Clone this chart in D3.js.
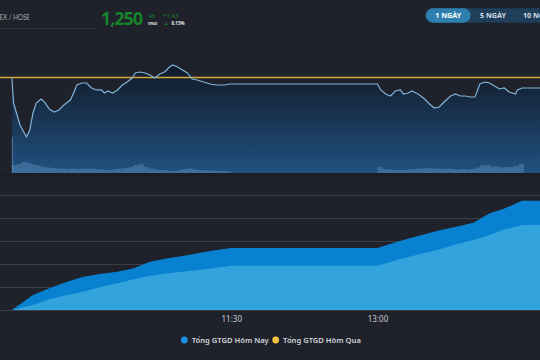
<!DOCTYPE html>
<html><head><meta charset="utf-8">
<script src="https://cdn.jsdelivr.net/npm/d3@7"></script>
<style>
html,body{margin:0;padding:0;background:#1f222a;}
svg{display:block;font-family:"Noto Sans","Open Sans",sans-serif;}
</style></head>
<body>
<svg id="c" width="540" height="360"></svg>
<script>
// ---------- data ----------
const refPrice = 1249.03;
const priceTimes = ["09:15","09:16","09:20","09:24","09:26","09:28","09:30","09:33","09:35","09:38","09:41","09:44","09:47","09:51","09:53","09:55","09:58","10:01","10:04","10:07","10:10","10:12","10:14","10:17","10:20","10:23","10:26","10:29","10:31","10:34","10:37","10:40","10:43","10:46","10:49","10:52","10:54","10:57","11:00","11:03","11:06","11:09","11:13","11:17","11:21","11:26","11:29","11:30","13:00","13:02","13:05","13:08","13:11","13:14","13:16","13:19","13:21","13:25","13:29","13:32","13:35","13:38","13:41","13:45","13:48","13:51","13:54","13:57","14:00","14:03","14:06","14:09","14:12","14:15","14:18","14:21","14:25","14:26","14:29","14:40"];
const priceValues = [1249.03,1245.37,1242.24,1240.53,1241.53,1243.95,1245.37,1245.94,1245.52,1244.52,1244.09,1244.38,1245.09,1245.80,1246.80,1247.94,1248.22,1248.22,1247.51,1247.23,1247.23,1246.80,1247.08,1246.80,1247.23,1247.94,1248.36,1248.93,1249.65,1249.79,1249.65,1249.36,1248.93,1249.50,1249.79,1250.50,1250.79,1250.50,1250.07,1249.65,1248.79,1248.65,1248.36,1248.08,1247.94,1247.94,1248.08,1248.08,1248.08,1247.23,1246.66,1246.37,1247.08,1247.23,1246.66,1246.80,1247.08,1246.66,1245.94,1245.23,1244.66,1244.80,1245.52,1246.37,1246.66,1246.37,1246.37,1246.23,1246.23,1248.08,1248.36,1248.22,1247.80,1247.37,1247.51,1246.94,1246.66,1247.23,1247.51,1247.51];

const atoTime = "09:15", atoVolume = 36;
const volMorningStart = "09:15";
const volMorning = [8,9,11,10,8.5,7.5,6,5.5,5,4.5,4.5,4,4.5,4,4.5,4,4.5,4,3.5,3,3.5,4,4.5,5,6,8,9,6,4.5,3.5,3,2.5,2,2,3,4,4.5,3.5,3,2.5,2.5,2.5,2,2,1.5];
const volAfternoonStart = "13:00";
const volAfternoon = [6,4,3.5,3,3,3,3.5,4,4.5,4.5,5,4.5,4.5,4,4.5,4,3.5,4,3.5,4,5.5,7.5,8,6.5,6.5,5.5,6,6,7,9];
const volBinMinutes = 3;

const valueTimes = ["09:15","09:28","09:38","09:49","09:59","10:09","10:20","10:30","10:40","10:50","11:00","11:10","11:20","11:30","13:00","13:12","13:22","13:37","13:47","13:59","14:09","14:17","14:29","14:40"];
const valueToday = [0,3260,4720,6150,7240,7830,8330,9100,10500,11200,11720,12400,12980,13480,13480,14850,15800,17240,17970,18980,21020,21890,23760,23760];
const valueToday2 = [0,1090,2330,3260,3980,4940,5800,6670,7460,7960,8310,8670,9140,9630,9630,10870,11780,13040,14150,15220,16300,17390,18480,18480];
const valueTicks = [0,5000,10000,15000,20000,25000];
const timeTicks = ["11:30","13:00"];
const legendLabels = ["Tổng GTGD Hôm Nay","Tổng GTGD Hôm Qua"];
const legendColors = ["#1a8fe3","#f6c342"];
const rangeButtons = ["1 NGÀY","5 NGÀY","10 NGÀY"];

// ---------- setup ----------
const svg = d3.select("#c");
const tp = d3.timeParse("%H:%M");
const x = d3.scaleTime().domain([tp("09:00"), tp("15:00")]).range([-12.5, 572.5]);
const yP = d3.scaleLinear().domain([1235.4, 1251.5]).range([173, 60]);
const yV = d3.scaleLinear().domain([0, 40]).range([173, 133]);
const yB = d3.scaleLinear().domain([0, 25000]).range([310, 195]);

const defs = svg.append("defs");
const g = defs.append("linearGradient").attr("id","pg").attr("gradientUnits","userSpaceOnUse")
  .attr("x1",0).attr("x2",0).attr("y1",65).attr("y2",173);
g.append("stop").attr("offset","0%").attr("stop-color","#111927");
g.append("stop").attr("offset","100%").attr("stop-color","#21517f");

// ---------- header ----------
svg.append("text").attr("x",-21).attr("y",20.3).attr("font-family","Lato,'Noto Sans',sans-serif")
  .attr("font-size",8.2).attr("fill","#a9adb4").attr("textLength",51).attr("lengthAdjust","spacingAndGlyphs")
  .text("VNINDEX / HOSE");
svg.append("line").attr("x1",0).attr("x2",97).attr("y1",28.5).attr("y2",28.5).attr("stroke","#2d3139");
svg.append("text").attr("x",101).attr("y",25.3).attr("font-size",17.5).attr("font-weight",700)
  .attr("fill","#17852b").attr("textLength",42).text("1,250");
svg.append("text").attr("x",148.5).attr("y",17.5).attr("font-size",6).attr("fill","#17852b").text("46");
svg.append("text").attr("x",148).attr("y",24.5).attr("font-size",4.2).attr("font-weight",700).attr("fill","#e8e8e8").text("VND");
svg.append("text").attr("x",163).attr("y",17.5).attr("font-size",6).attr("fill","#17852b").text("+1.43");
svg.append("path").attr("d","M164.5,25 L166.1,22.6 L167.7,25 Z").attr("fill","#17852b");
svg.append("text").attr("x",171.5).attr("y",24.5).attr("font-size",4.5).attr("font-weight",700).attr("fill","#e8e8e8").text("0.15%");

// range buttons
svg.append("rect").attr("x",425.7).attr("y",8.3).attr("width",130).attr("height",14.4).attr("rx",7.2).attr("fill","#1e3e59");
svg.append("rect").attr("x",425.7).attr("y",8.3).attr("width",45).attr("height",14.4).attr("rx",7.2).attr("fill","#2d7fae");
const btnX = [448.2, 493, 538];
rangeButtons.forEach((b,i)=>{
  svg.append("text").attr("x",btnX[i]).attr("y",18.3).attr("text-anchor","middle")
    .attr("font-size",7.2).attr("font-weight",700).attr("fill",i===0?"#ffffff":"#d6dde6").text(b);
});

// ---------- price chart ----------
const pdata = priceTimes.map((t,i)=>({t:tp(t), v:priceValues[i]}));
svg.append("path").datum(pdata).attr("fill","url(#pg)")
  .attr("d", d3.area().x(d=>x(d.t)).y0(yP.range()[0]).y1(d=>yP(d.v)));

// volume
const bins = [];
volMorning.forEach((v,i)=>bins.push({t:d3.timeMinute.offset(tp(volMorningStart), i*volBinMinutes), v}));
volAfternoon.forEach((v,i)=>bins.push({t:d3.timeMinute.offset(tp(volAfternoonStart), i*volBinMinutes), v}));
svg.append("g").selectAll("rect").data(bins).join("rect")
  .attr("x", d=>x(d.t))
  .attr("width", d=>x(d3.timeMinute.offset(d.t, volBinMinutes)) - x(d.t) + 0.3)
  .attr("y", d=>yV(d.v)).attr("height", d=>yV(0)-yV(d.v))
  .attr("fill","#5c8fbe").attr("fill-opacity",0.45);
svg.append("rect").attr("x", x(tp(atoTime))).attr("width", 1.2)
  .attr("y", yV(atoVolume)).attr("height", yV(0)-yV(atoVolume))
  .attr("fill","#5c8fbe").attr("fill-opacity",0.6);

svg.append("rect").attr("x",0).attr("y",173).attr("width",540).attr("height",3).attr("fill","#1a1d23");

// reference line
const ry = Math.round(yP(refPrice)) + 0.5;
svg.append("line").attr("x1",0).attr("x2",540).attr("y1",ry).attr("y2",ry)
  .attr("stroke","#d2aa3c").attr("stroke-width",1.5);
svg.append("path").datum(pdata).attr("fill","none").attr("stroke","#80b3d8").attr("stroke-width",1.2)
  .attr("d", d3.line().x(d=>x(d.t)).y(d=>yP(d.v)));

// ---------- value chart ----------
svg.append("g").selectAll("line").data(valueTicks).join("line")
  .attr("x1",0).attr("x2",540).attr("y1",d=>Math.round(yB(d))+0.5).attr("y2",d=>Math.round(yB(d))+0.5)
  .attr("stroke","#3a3d45").attr("stroke-width",1);

const vdata = valueTimes.map((t,i)=>({t:tp(t), a:valueToday[i], b:valueToday2[i]}));
svg.append("path").datum(vdata).attr("fill","#0881d1")
  .attr("d", d3.area().x(d=>x(d.t)).y0(yB(0)).y1(d=>yB(d.a)));
svg.append("path").datum(vdata).attr("fill","#33a3de")
  .attr("d", d3.area().x(d=>x(d.t)).y0(yB(0)).y1(d=>yB(d.b)));

const xAxis = d3.axisBottom(x).tickValues(timeTicks.map(tp)).tickFormat(d3.timeFormat("%H:%M")).tickSize(0);
const ax = svg.append("g").attr("transform","translate(0,311)").call(xAxis);
ax.select(".domain").remove();
ax.selectAll("text").attr("font-size",8).attr("fill","#c9ccd1").attr("dy","1.05em")
  .attr("font-family","'Noto Sans',sans-serif");

// ---------- legend ----------
const lx = [184.3, 275.7];
legendLabels.forEach((l,i)=>{
  svg.append("circle").attr("cx",lx[i]).attr("cy",340).attr("r",3.4).attr("fill",legendColors[i]);
  svg.append("text").attr("x",lx[i]+7.4).attr("y",342.8).attr("font-size",7.6).attr("font-weight",600)
    .attr("fill","#d2d5da").text(l);
});
</script>
</body></html>
